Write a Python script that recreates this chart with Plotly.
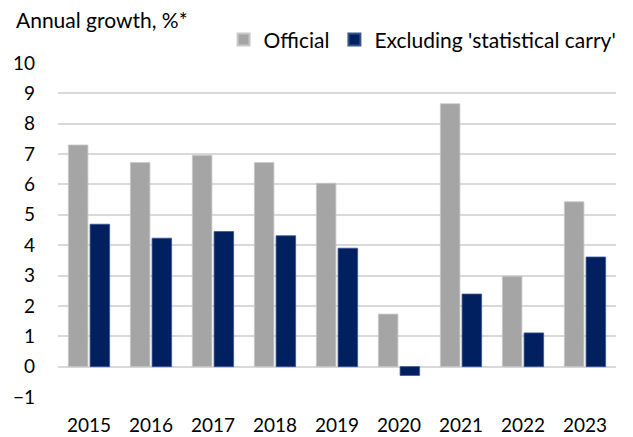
import plotly.graph_objects as go

years = ["2015", "2016", "2017", "2018", "2019", "2020", "2021", "2022", "2023"]
official = [7.30, 6.72, 6.96, 6.72, 6.04, 1.73, 8.66, 2.98, 5.43]
excluding = [4.69, 4.23, 4.45, 4.31, 3.90, -0.29, 2.39, 1.11, 3.61]
y_ticks = [-1, 0, 1, 2, 3, 4, 5, 6, 7, 8, 9, 10]

FONT = "Lato"
TICK_SIZE = 19
LEGEND_SIZE = 21
TITLE_SIZE = 21

fig = go.Figure()
fig.add_trace(go.Bar(x=years, y=official, name="Official",
                     marker=dict(color="#A5A5A5", line=dict(color="#C8C8C8", width=0.8))))
fig.add_trace(go.Bar(x=years, y=excluding, name="Excluding 'statistical carry'",
                     marker=dict(color="#002060", line=dict(color="#3A5490", width=0.8))))

fig.update_layout(
    width=633, height=437,
    margin=dict(l=58, r=11, t=63, b=40),
    paper_bgcolor="white", plot_bgcolor="white",
    barmode="group", bargap=0.3, bargroupgap=0.1,
    font=dict(family=FONT, size=TICK_SIZE, color="#000000"),
    showlegend=True,
    legend=dict(orientation="h", x=1.01, xanchor="right", y=1.069, yanchor="middle",
                font=dict(family=FONT, size=LEGEND_SIZE, color="#000000"),
                itemsizing="constant", traceorder="normal",
                bgcolor="rgba(0,0,0,0)", itemwidth=30, tracegroupgap=0),
    annotations=[dict(text="Annual growth, %*", xref="paper", yref="paper",
                      x=-0.078, y=1.129, xanchor="left", yanchor="middle",
                      showarrow=False, font=dict(family=FONT, size=TITLE_SIZE, color="#000000"))],
)
fig.update_xaxes(showgrid=False, showline=False, ticks="", ticklabelstandoff=15,
                 automargin=False,
                 tickfont=dict(family=FONT, size=TICK_SIZE, color="#000000"))
fig.update_yaxes(range=[-1, 10], tickvals=y_ticks, showgrid=True, gridcolor="#D9D9D9",
                 gridwidth=1.5, zeroline=True, zerolinecolor="#D9D9D9", zerolinewidth=1.5,
                 showline=False, ticks="", ticklabelstandoff=22, automargin=False,
                 tickfont=dict(family=FONT, size=TICK_SIZE, color="#000000"))

fig.write_html("out.html")
